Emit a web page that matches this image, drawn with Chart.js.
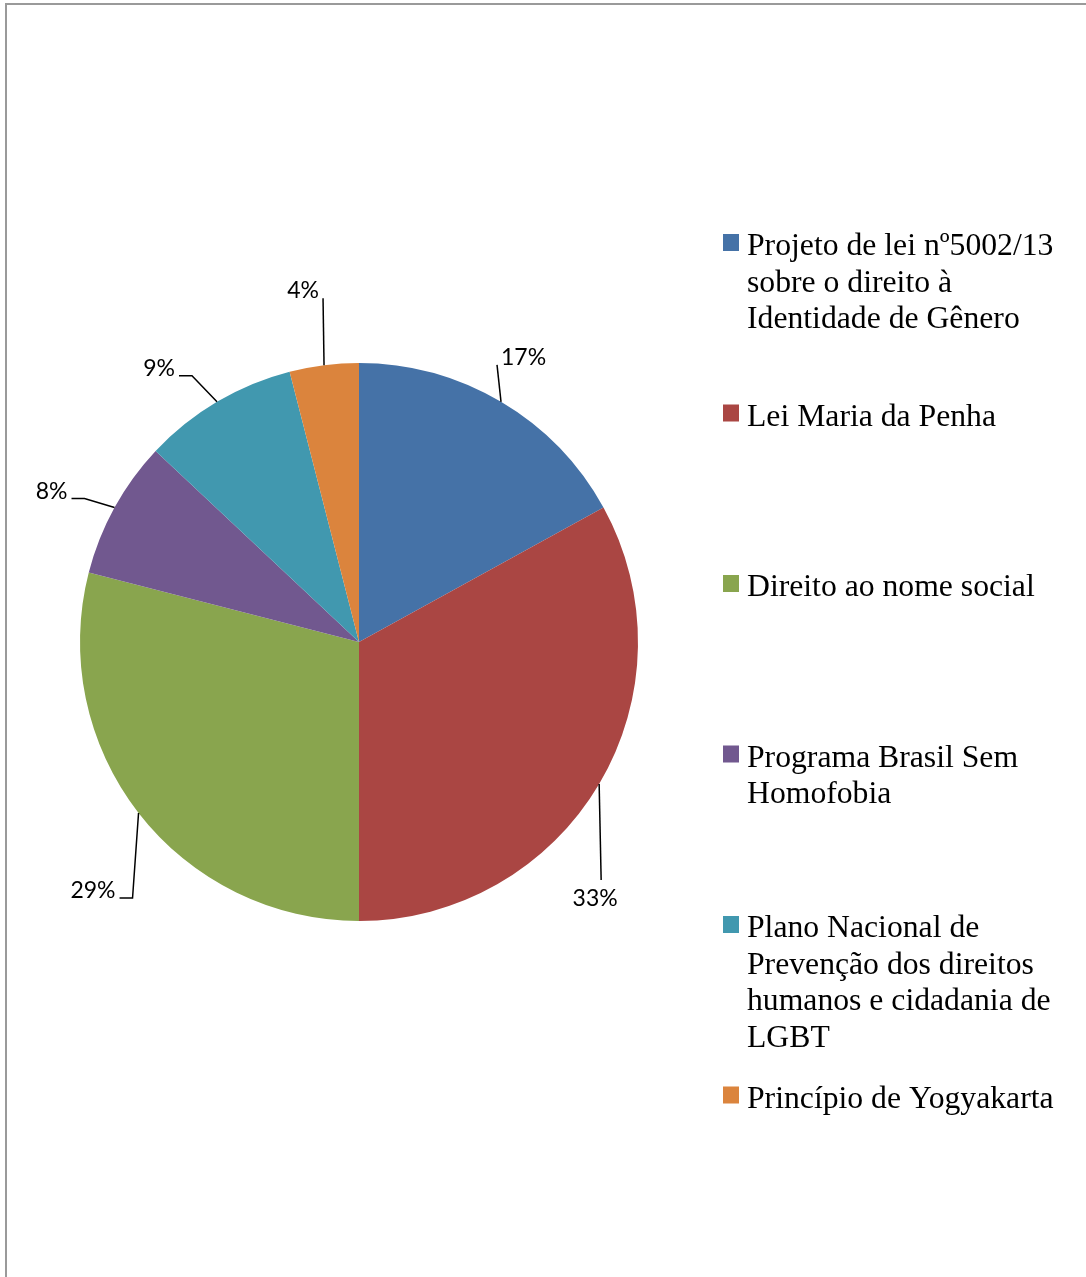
<!DOCTYPE html>
<html>
<head>
<meta charset="utf-8">
<script src="https://cdn.jsdelivr.net/npm/chart.js@4"></script>
<style>
  html, body { margin: 0; padding: 0; background: #fff; overflow: hidden; }
  #page { position: absolute; left: 5px; top: 3px; width: 1200px; height: 1400px;
          border-left: 2px solid #9a9a9a; border-top: 2px solid #9a9a9a; }
  #wrap { position: absolute; left: 0; top: 0; width: 1086px; height: 1277px; }
</style>
</head>
<body>
<div id="page"></div>
<div id="wrap"><canvas id="pie"></canvas></div>
<script>
// each category is split into the lines shown in the legend
const categories = [
  ["Projeto de lei nº5002/13", "sobre o direito à", "Identidade de Gênero"],
  ["Lei Maria da Penha"],
  ["Direito ao nome social"],
  ["Programa Brasil Sem", "Homofobia"],
  ["Plano Nacional de", "Prevenção dos direitos", "humanos e cidadania de", "LGBT"],
  ["Princípio de Yogyakarta"]
];
const percentages = [17, 33, 29, 8, 9, 4];
const sliceColors = ["#4572A7", "#AA4643", "#89A54E", "#71588F", "#4198AF", "#DB843D"];

// leader line bends, relative to the point where the line leaves the slice
const leaders = [
  { elbow: [-4, -37], stub: 0, text: [4, 0], align: "left" },
  { elbow: [2, 96], stub: 0, text: [-6, 26], align: "center" },
  { elbow: [-6, 85], stub: -13, text: [-4, 0], align: "right" },
  { elbow: [-30, -9], stub: -13, text: [-4, 0], align: "right" },
  { elbow: [-25, -26], stub: -13, text: [-4, 0], align: "right" },
  { elbow: [-1, -67], stub: 0, text: [-4, 0], align: "right" }
];

const outsideLabels = {
  id: "outsideLabels",
  afterDatasetsDraw(chart) {
    const ctx = chart.ctx;
    const meta = chart.getDatasetMeta(0);
    ctx.save();
    ctx.strokeStyle = "#000";
    ctx.lineWidth = 1.5;
    ctx.fillStyle = "#000";
    ctx.font = "23px Lato";
    ctx.textBaseline = "alphabetic";
    meta.data.forEach((arc, i) => {
      const p = arc.getProps(["x", "y", "startAngle", "endAngle", "outerRadius"], true);
      const mid = (p.startAngle + p.endAngle) / 2;
      const ax = p.x + Math.cos(mid) * p.outerRadius;
      const ay = p.y + Math.sin(mid) * p.outerRadius;
      const l = leaders[i];
      const ex = ax + l.elbow[0], ey = ay + l.elbow[1];
      const sx = ex + l.stub;
      ctx.beginPath();
      ctx.moveTo(ax, ay);
      ctx.lineTo(ex, ey);
      if (l.stub) ctx.lineTo(sx, ey);
      ctx.stroke();
      ctx.textAlign = l.align;
      ctx.fillText(percentages[i] + "%", sx + l.text[0], ey + l.text[1]);
    });
    ctx.restore();
  }
};

const sideLegend = {
  id: "sideLegend",
  afterDraw(chart) {
    const ctx = chart.ctx;
    ctx.save();
    ctx.font = "31.7px 'Liberation Serif'";
    ctx.textAlign = "left";
    ctx.textBaseline = "alphabetic";
    categories.forEach((lines, i) => {
      const base = 255 + i * 170.5;
      ctx.fillStyle = sliceColors[i];
      ctx.fillRect(723, base - 21, 16, 17);
      ctx.fillStyle = "#000";
      lines.forEach((line, j) => ctx.fillText(line, 747, base + j * 36.5));
    });
    ctx.restore();
  }
};

new Chart(document.getElementById("pie").getContext("2d"), {
  type: "pie",
  data: {
    labels: categories,
    datasets: [{
      data: percentages,
      backgroundColor: sliceColors,
      borderWidth: 0
    }]
  },
  options: {
    responsive: true,
    maintainAspectRatio: false,
    animation: false,
    layout: { padding: { left: 80, right: 448, top: 363, bottom: 356 } },
    plugins: {
      legend: { display: false },
      tooltip: { enabled: false }
    }
  },
  plugins: [outsideLabels, sideLegend]
});
</script>
</body>
</html>
